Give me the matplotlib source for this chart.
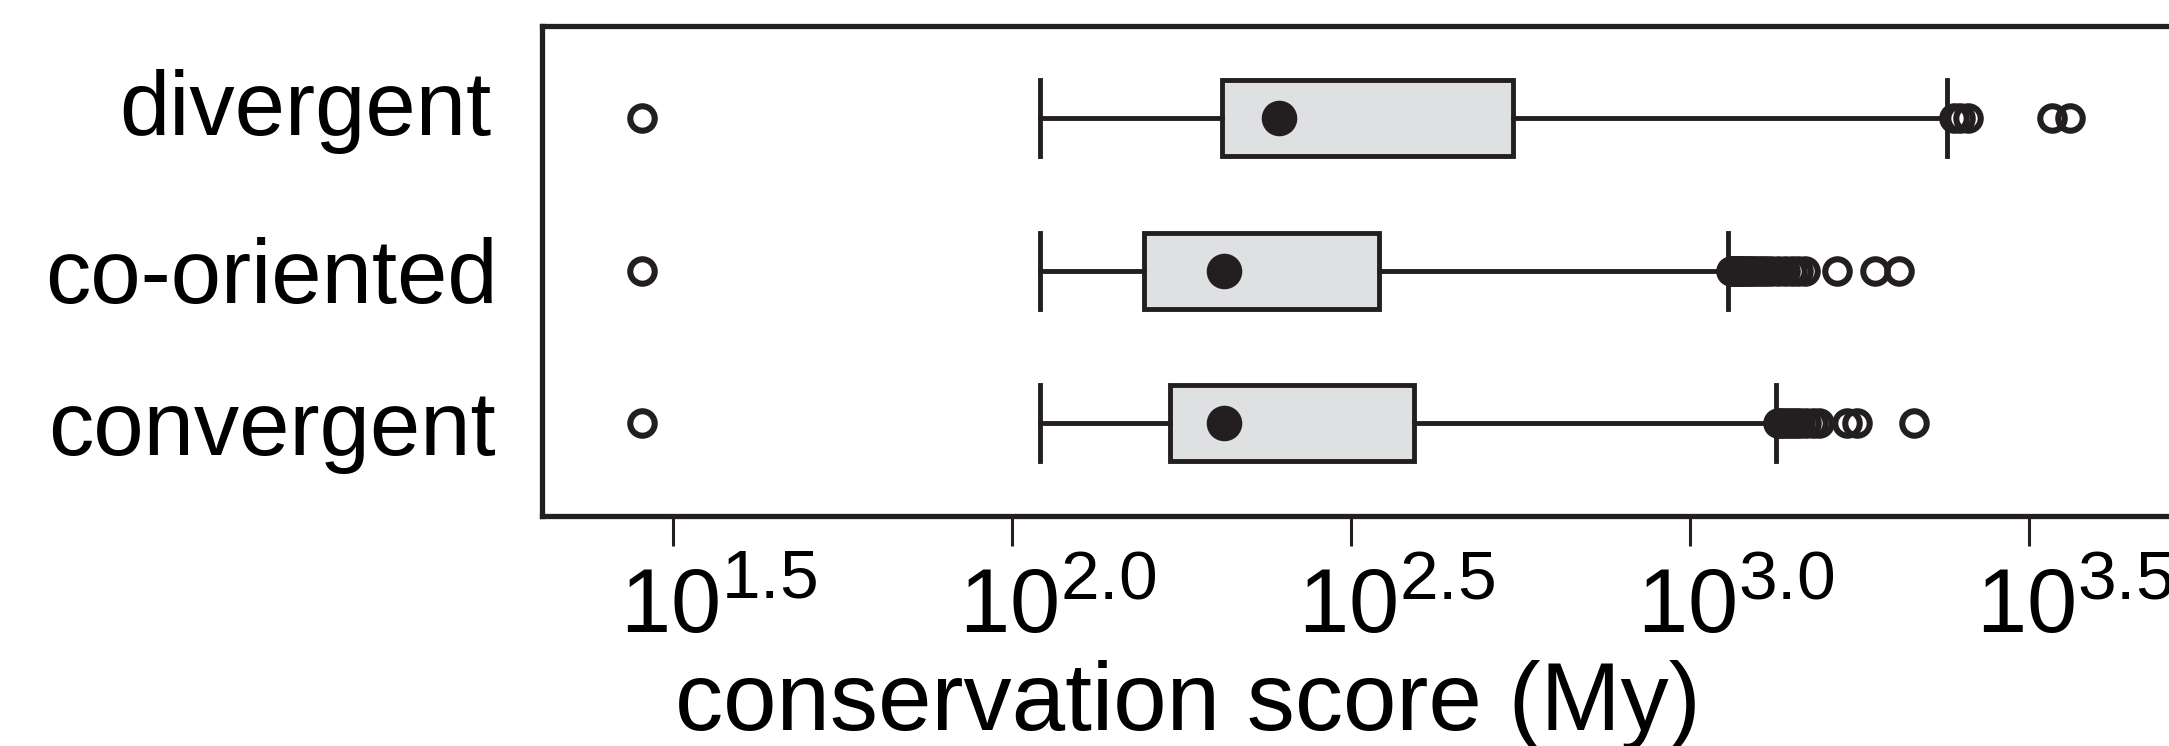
import matplotlib
matplotlib.use("Agg")
import matplotlib.pyplot as plt
from matplotlib.transforms import ScaledTranslation
from matplotlib.ticker import NullLocator
import matplotlib._mathtext as _mt

# larger superscripts, as in the reference's axis labels
_mt.SHRINK_FACTOR = 0.77

plt.rcParams['font.family'] = ['Liberation Sans', 'DejaVu Sans']
plt.rcParams['mathtext.fontset'] = 'custom'
plt.rcParams['mathtext.rm'] = 'Liberation Sans'
plt.rcParams['mathtext.it'] = 'Liberation Sans:italic'
plt.rcParams['mathtext.bf'] = 'Liberation Sans:bold'

# ---------------- data (conservation score, My) ----------------
categories = ["divergent", "co-oriented", "convergent"]   # top to bottom
positions = [3, 2, 1]

q1 = [204, 156.5, 171]
medians = [248, 205.6, 205.6]
q3 = [549, 348.3, 392]
whisker_low = [110, 110, 110]
whisker_high = [2393, 1139, 1339]

fliers_divergent = [28.5, 2455, 2500, 2570, 3420, 3640]
fliers_cooriented = [28.5, 1148, 1153, 1159, 1167, 1175, 1180, 1189, 1197, 1208,
                     1219, 1230, 1245, 1259, 1276, 1294, 1318, 1349, 1380, 1413,
                     1445, 1476, 1648, 1875, 2032]
fliers_convergent = [28.5, 1349, 1361, 1377, 1396, 1413, 1432, 1455, 1483, 1521,
                     1549, 1706, 1762, 2138]
fliers = [fliers_divergent, fliers_cooriented, fliers_convergent]

xtick_exponents = ["1.5", "2.0", "2.5", "3.0", "3.5"]
xlabel = "conservation score (My)"

# ---------------- style ----------------
DARK = '#231f20'
FILL = '#dfe0e2'
DPI = 200
W, H = 2169, 746

fig = plt.figure(figsize=(W / DPI, H / DPI), dpi=DPI)
ax_left_px, ax_right_px, ax_top_px, ax_bot_px = 542, 2185, 26, 516
ax = fig.add_axes([ax_left_px / W, (H - ax_bot_px) / H,
                   (ax_right_px - ax_left_px) / W, (ax_bot_px - ax_top_px) / H])

stats = []
for i, cat in enumerate(categories):
    stats.append(dict(label=cat, med=medians[i], q1=q1[i], q3=q3[i],
                      whislo=whisker_low[i], whishi=whisker_high[i],
                      fliers=fliers[i]))

lw = 1.75
common = dict(positions=positions, widths=0.5, capwidths=0.5, patch_artist=True,
              boxprops=dict(facecolor=FILL, edgecolor=DARK, linewidth=lw),
              whiskerprops=dict(color=DARK, linewidth=lw, linestyle='-'),
              capprops=dict(color=DARK, linewidth=lw),
              medianprops=dict(color=DARK, linewidth=0),
              flierprops=dict(marker='o', markerfacecolor='none',
                              markeredgecolor=DARK, markersize=8.8,
                              markeredgewidth=2.2, linestyle='none'),
              manage_ticks=False)
try:
    res = ax.bxp(stats, orientation='horizontal', **common)
except TypeError:
    res = ax.bxp(stats, vert=False, **common)
for m in res['medians']:
    m.set_visible(False)

ax.plot(medians, positions, linestyle='none', marker='o', markersize=12.2,
        color=DARK, markeredgecolor=DARK, markeredgewidth=0.6, zorder=5)

ax.set_xscale('log')
ax.set_xlim(10 ** 1.3068, 10 ** 3.7302)
ax.set_ylim(0.39, 3.605)

ax.set_xticks([10 ** float(e) for e in xtick_exponents])
ax.set_xticklabels([r'$\mathregular{10^{%s}}$' % e for e in xtick_exponents])
ax.xaxis.set_minor_locator(NullLocator())
ax.set_yticks(positions)
ax.set_yticklabels(categories)

for s in ax.spines.values():
    s.set_linewidth(1.9)
    s.set_color(DARK)

ax.tick_params(axis='x', direction='out', length=10.8, width=1.1, color=DARK,
               pad=31.3, labelsize=32.5, labelcolor='black')
ax.tick_params(axis='y', length=0, pad=15.8, labelsize=32.6, labelcolor='black')

for lab in ax.get_xticklabels():
    lab.set_horizontalalignment('left')
    lab.set_verticalalignment('baseline')
    lab.set_transform(lab.get_transform() + ScaledTranslation(-19 / 72, 0, fig.dpi_scale_trans))

y_shift = {"divergent": (-7, 15.5), "co-oriented": (0, 0), "convergent": (-2, 0)}
for lab in ax.get_yticklabels():
    lab.set_verticalalignment('baseline')
    dx_px, dy_px = y_shift.get(lab.get_text(), (0, 0))
    off_pt = -0.358 * 32.6 + dy_px * 72 / DPI
    lab.set_transform(lab.get_transform() +
                      ScaledTranslation(dx_px / DPI, off_pt / 72, fig.dpi_scale_trans))

ax.set_xlabel(xlabel, fontsize=34.6, va='baseline')
ax_w_px = ax_right_px - ax_left_px
ax_h_px = ax_bot_px - ax_top_px
ax.xaxis.set_label_coords((1188 - ax_left_px) / ax_w_px, (ax_bot_px - 730) / ax_h_px)

fig.savefig('out.png', dpi=DPI)
